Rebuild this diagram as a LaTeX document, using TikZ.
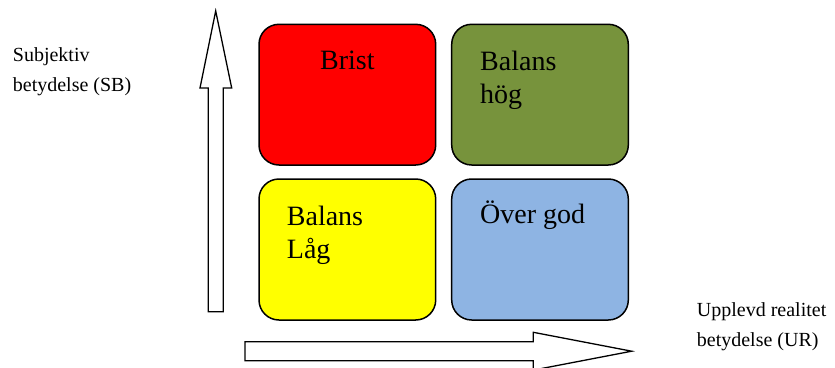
\documentclass[tikz,border=0pt]{standalone}
\usepackage{fontspec}
\setmainfont{Liberation Serif}
\definecolor{bristred}{HTML}{FF0000}
\definecolor{hoggreen}{HTML}{77933C}
\definecolor{lagyellow}{HTML}{FFFF00}
\definecolor{godblue}{HTML}{8EB4E3}
\begin{document}
\begin{tikzpicture}[x=1pt,y=-1pt,
  quadrant/.style={draw=black, line width=1.5pt, rounded corners=20pt},
  blockarrow/.style={draw=black, line width=1.3pt, fill=white, line join=miter},
  bigtext/.style={anchor=base west, inner sep=0pt, align=left, font=\fontsize{28}{33}\selectfont},
  axistext/.style={anchor=base west, inner sep=0pt, align=left, font=\fontsize{20}{30}\selectfont}]
\useasboundingbox (0,0) rectangle (835,367);

% quadrants
\draw[quadrant, fill=bristred]  (259,24.3) rectangle (435.7,165);
\draw[quadrant, fill=hoggreen]  (451.7,24.3) rectangle (628.3,165);
\draw[quadrant, fill=lagyellow] (259,179) rectangle (435.7,320);
\draw[quadrant, fill=godblue]   (451.7,179) rectangle (628.3,320);

% labels (anchored at the baseline of the last line)
\node[bigtext] (brist) at (320,69) {Brist};
\node[bigtext] (hog) at (480,103.3) {Balans\\hög};
\node[bigtext] (lag) at (286.7,258.3) {Balans\\Låg};
\node[bigtext] (god) at (480,223.3) {Över god};

% vertical block arrow
\draw[blockarrow] (208.3,311.7) -- (208.3,88) -- (200,88) -- (215.7,11)
  -- (231.7,88) -- (223.3,88) -- (223.3,311.7) -- cycle;
% horizontal block arrow
\begin{scope}
\clip (0,0) rectangle (835,367);
\draw[blockarrow] (245,341.7) -- (533.3,341.7) -- (533.3,332.3) -- (631.7,351.2)
  -- (533.3,370.1) -- (533.3,360.7) -- (245,360.7) -- cycle;
\end{scope}

\node[axistext] (sb) at (12.7,91.7) {Subjektiv\\betydelse (SB)};
\node[axistext] (ur) at (696.7,346.7) {Upplevd realitet\\betydelse (UR)};
\end{tikzpicture}
\end{document}
